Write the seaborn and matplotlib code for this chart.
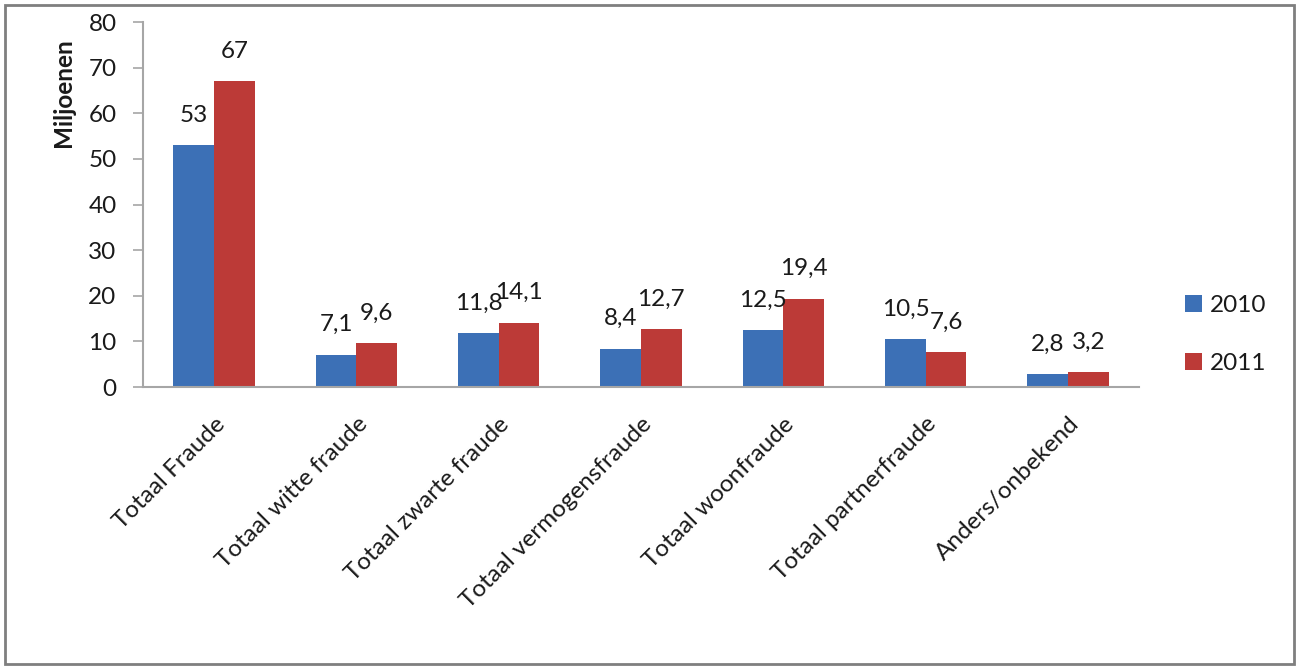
import matplotlib
matplotlib.use("Agg")
import matplotlib.pyplot as plt
import seaborn as sns
import pandas as pd
from matplotlib.patches import Rectangle, Patch

categories = ["Totaal Fraude", "Totaal witte fraude", "Totaal zwarte fraude",
              "Totaal vermogensfraude", "Totaal woonfraude", "Totaal partnerfraude",
              "Anders/onbekend"]
values_2010 = [53, 7.1, 11.8, 8.4, 12.5, 10.5, 2.8]
values_2011 = [67, 9.6, 14.1, 12.7, 19.4, 7.6, 3.2]
years = ["2010", "2011"]
yticks = [0, 10, 20, 30, 40, 50, 60, 70, 80]

df = pd.DataFrame({
    "categorie": categories * 2,
    "jaar": [years[0]] * len(categories) + [years[1]] * len(categories),
    "waarde": values_2010 + values_2011,
})

sns.set_theme(style="white")
plt.rcParams["font.family"] = ["Lato", "DejaVu Sans"]

colors = {"2010": "#3C70B6", "2011": "#BC3A37"}
axis_color = "#A6A6A6"
text_color = "#1A1A1A"
fs = 17.5

fig = plt.figure(figsize=(12.99, 6.69), dpi=100)
ax = fig.add_axes([0.110, 0.4215, 0.767, 0.5455])

sns.barplot(data=df, x="categorie", y="waarde", hue="jaar", order=categories,
            hue_order=years, palette=colors, width=0.57, gap=0, saturation=1,
            ax=ax, legend=False, edgecolor="none")

def fmt(v):
    return ("%g" % v).replace(".", ",")

for cont in ax.containers:
    ax.bar_label(cont, labels=[fmt(b.get_height()) for b in cont],
                 padding=14, fontsize=fs, color=text_color)

ax.set_ylim(0, 80)
ax.set_xlim(-0.5, len(categories) - 0.5)
ax.set_yticks(yticks)
ax.set_yticklabels([str(t) for t in yticks], fontsize=fs, color=text_color)
ax.set_xticks(range(len(categories)))
ax.set_xticklabels(categories, rotation=45, ha="right", va="top",
                   rotation_mode="anchor", fontsize=fs, color=text_color)
ax.tick_params(axis="x", length=0, pad=19)
ax.set_xticks([i - 0.5 for i in range(len(categories) + 1)], minor=True)
ax.tick_params(axis="x", which="minor", length=7, color=axis_color, width=1.2)
ax.tick_params(axis="y", length=7, color=axis_color, width=1.2, left=True, pad=12)
ax.set_xlabel("")
ax.set_ylabel("Miljoenen", fontsize=fs, fontweight="bold", color=text_color)
ax.yaxis.set_label_coords(-0.068, 0.808)

for s in ["top", "right"]:
    ax.spines[s].set_visible(False)
for s in ["left", "bottom"]:
    ax.spines[s].set_color(axis_color)
    ax.spines[s].set_linewidth(1.5)

handles = [Patch(facecolor=colors[y], edgecolor="none") for y in years]
fig.legend(handles, years, loc="center left", bbox_to_anchor=(0.912, 0.50),
           frameon=False, fontsize=fs, handlelength=0.7, handleheight=0.7,
           handletextpad=0.35, labelspacing=1.5, labelcolor=text_color,
           borderaxespad=0, borderpad=0)

fig.patches.append(Rectangle((0.004, 0.007), 0.992, 0.986, transform=fig.transFigure,
                             fill=False, edgecolor="#7F7F7F", linewidth=2.0))

fig.savefig("out.png", dpi=100)
